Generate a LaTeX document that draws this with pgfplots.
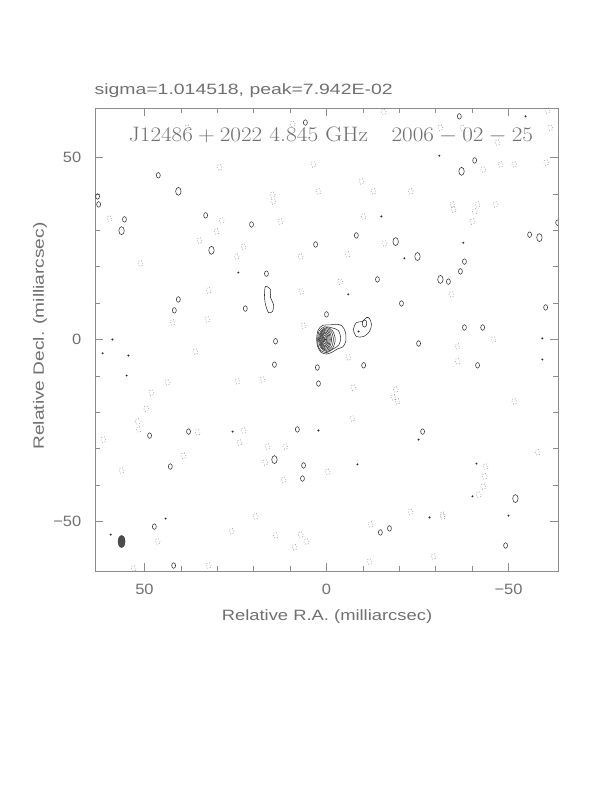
\documentclass[border=0pt]{standalone}
\usepackage{fontspec}
\setsansfont{Liberation Sans}
\usepackage{pgfplots}
\pgfplotsset{compat=1.18}
\definecolor{frame}{RGB}{140,140,140}
\definecolor{txt}{RGB}{112,112,112}
\definecolor{cont}{RGB}{45,45,45}
\definecolor{neg}{RGB}{95,95,95}
\begin{document}
\begin{tikzpicture}
\useasboundingbox (0bp,0bp) rectangle (612bp,792bp);
\begin{axis}[at={(95bp,221bp)}, anchor=south west, width=463bp, height=463bp, scale only axis,
  xmin=-63.6, xmax=63.6, ymin=-63.6, ymax=63.6, x dir=reverse,
  axis line style={frame, line width=0.6pt},
  every tick/.style={frame, line width=0.6pt},
  major tick length=8bp, minor tick length=5bp,
  tick align=inside, tick pos=both,
  xtick={-50,0,50}, ytick={-50,0,50}, minor tick num=4,
  xticklabels={−50,0,50}, yticklabels={−50,0,50},
  ticklabel style={font=\sffamily\fontsize{15}{15}\selectfont, text=txt, xscale=1.1},
  xticklabel style={yshift=-10bp},
  yticklabel style={xshift=-9bp},
  clip marker paths=true,
  contour/.style={cont, line width=0.55pt, smooth cycle, mark=none},
]
% central component contours
\addplot[contour] coordinates {(2.7,0) (2.3,2.6) (1.0,3.9) (-1.0,4.0) (-2.5,4.2) (-4.2,3.8) (-5.2,2.0) (-5.3,-0.5) (-4.5,-2.0) (-3.0,-2.6) (-1.5,-3.5) (0,-4.0) (1.5,-3.5) (2.4,-2.0)};
\addplot[contour] coordinates {(2.45,0) (2.0,2.4) (0.5,3.5) (-1.5,3.2) (-3.2,2.5) (-3.9,0.5) (-3.4,-1.5) (-1.8,-2.6) (0,-3.6) (1.6,-3.0) (2.25,-1.8)};
\addplot[contour] coordinates {(2.2,0) (1.526,2.333) (-0.1,3.3) (-1.726,2.333) (-2.4,0) (-1.726,-2.333) (-0.1,-3.3) (1.526,-2.333)};
\addplot[contour] coordinates {(1.95,0) (1.386,2.121) (0.025,3.0) (-1.336,2.121) (-1.9,0) (-1.336,-2.121) (0.025,-3.0) (1.386,-2.121)};
\addplot[contour] coordinates {(1.75,0) (1.289,1.909) (0.175,2.7) (-0.939,1.909) (-1.4,0) (-0.939,-1.909) (0.175,-2.7) (1.289,-1.909)};
\addplot[contour] coordinates {(1.55,0) (1.169,1.697) (0.25,2.4) (-0.669,1.697) (-1.05,0) (-0.669,-1.697) (0.25,-2.4) (1.169,-1.697)};
\addplot[contour] coordinates {(1.35,0) (1.042,1.449) (0.3,2.05) (-0.442,1.449) (-0.75,0) (-0.442,-1.449) (0.3,-2.05) (1.042,-1.449)};
\addplot[contour] coordinates {(1.15,0) (0.916,1.202) (0.35,1.7) (-0.216,1.202) (-0.45,0) (-0.216,-1.202) (0.35,-1.7) (0.916,-1.202)};
\addplot[contour] coordinates {(0.9,0) (0.739,0.919) (0.35,1.3) (-0.039,0.919) (-0.2,0) (-0.039,-0.919) (0.35,-1.3) (0.739,-0.919)};
\addplot[contour] coordinates {(0.6,0) (0.512,0.566) (0.3,0.8) (0.088,0.566) (0,0) (0.088,-0.566) (0.3,-0.8) (0.512,-0.566)};
% secondary component
\addplot[contour] coordinates {(-7.42,2.75) (-8.24,4.67) (-9.89,4.95) (-11.0,6.04) (-11.81,5.77) (-12.36,4.12) (-11.81,2.2) (-10.16,0.82) (-8.24,0.82)};
\addplot[contour] coordinates {(-9.84,4.4) (-10.0,5.1) (-10.44,5.4) (-10.9,5.1) (-11.04,4.4) (-10.9,3.7) (-10.44,3.4) (-10.0,3.7)};
% elongated noise contour
\addplot[contour] coordinates {(16.76,14.56) (15.38,13.74) (15.38,11.54) (14.56,9.62) (14.84,7.69) (15.93,7.42) (16.76,9.62) (17.03,12.09)};
% beam
\addplot[draw=cont, fill=cont!85, line width=0.4pt, smooth cycle, mark=none] coordinates {(57.26,-55.5) (56.98,-54.33) (56.3,-53.85) (55.62,-54.33) (55.34,-55.5) (55.62,-56.67) (56.3,-57.15) (56.98,-56.67)};
% small positive contours
\addplot[only marks, mark=o, mark size=2.8pt, mark options={cont, line width=0.55pt, xscale=0.7}] coordinates {
(62.6,37.1) (55.5,33.0) (33.2,34.1) (20.6,31.6) (3.0,26.1) (16.5,18.1) (40.7,11.0) (41.8,8.0) (22.3,8.5) (14.0,-0.5) (0,6.9)
(-8.2,28.6) (-37.9,21.4) (-36.8,18.7) (-33.5,15.9) (-14.0,16.5) (-20.6,9.9) (-55.8,28.8) (-60.2,8.8) (-37.9,3.3) (-42.9,3.3) (-25.3,-1.1)
(14.3,-6.9) (2.5,-7.7) (2.2,-12.1) (48.6,-26.4) (37.9,-25.3) (8.0,-24.7) (6.3,-34.6) (6.6,-38.2) (42.9,-34.9)
(-10.2,-7.1) (-41.5,-7.1) (-26.4,-25.3) (47.3,-51.4) (42.0,-62.1) (-14.8,-53.0) (-17.3,-51.9) (-49.2,-56.6) (63.7,-49.5)
(5.8,59.6) (-36.5,61.3) (-40.7,49.2) (46.2,45.1) (62.9,39.3) (-63.5,32.1)};
% larger positive contours
\addplot[only marks, mark=o, mark size=4pt, mark options={cont, line width=0.55pt, xscale=0.68}] coordinates {
(56.3,29.9) (31.6,24.5) (-19.0,26.9) (-25.0,22.8) (-31.3,16.5) (-58.5,28.0) (14.3,-33.0) (-51.9,-43.7) (-37.1,46.2) (40.7,40.7)};
% tiny positive contours
\addplot[only marks, mark=*, mark size=0.8pt, mark options={cont, line width=0.3pt}] coordinates {
(24.2,18.4) (58.8,0) (-21.4,22.3) (-15.1,33.8) (-37.6,26.6) (-6.0,12.4) (-59.3,0.3) (54.4,-4.4) (25.8,-25.3) (2.2,-25.0)
(61.5,-3.8) (54.9,-9.9) (-59.3,-5.5) (-25.3,-27.5) (-8.5,-34.3) (-41.2,-34.1) (-40.1,-43.1) (-50.0,-48.4) (-28.3,-48.9)
(59.3,-53.6) (44.2,-49.2) (-54.7,61.3) (-31.0,50.5) (-8.8,2.2) (0.3,0)};
% negative contours (dotted)
\addplot[only marks, mark=o, mark size=3pt, mark options={neg, line width=0.6pt, dash pattern=on 0.6pt off 2.2pt, xscale=0.8}] coordinates {
(51.1,20.9) (28.8,32.7) (30.2,29.7) (34.9,27.2) (22.8,25.5) (24.7,22.8) (7.1,22.8) (6.9,13.2) (32.4,13.5) (42.3,4.7) (32.7,5.5)
(6.3,3.8) (14.6,37.9) (59.6,33.2) (12.6,32.4)
(-34.9,35.7) (-40.7,35.2) (-40.1,32.4) (-10.2,33.8) (-5.8,23.4) (-3.8,15.9) (-34.3,12.4) (-45.9,0) (-36.0,-1.9) (-46.4,37.1) (-15.9,26.4)
(43.7,-11.8) (48.1,-14.6) (49.5,-19.0) (51.9,-22.5) (51.6,-24.7) (61.3,-27.5) (39.3,-31.9) (56.3,-36.0) (24.5,-11.5) (17.6,-11.0)
(23.9,-28.3) (16.2,-29.4) (16.8,-33.8) (11.8,-38.5) (11.3,-29.4) (35.4,-25.5) (22.8,-25.0) (-0.3,-36.3) (36.0,-3.3)
(-6.0,-4.9) (-36.0,-6.0) (-7.4,-13.2) (-19.0,-13.7) (-18.4,-15.9) (-19.5,-17.0) (-7.1,-21.7) (-43.7,-34.9) (-43.4,-37.6)
(-43.1,-40.4) (-41.8,-42.6) (-58.0,-31.0) (-51.6,-17.0) (-31.9,-48.1)
(46.4,-55.5) (26.1,-52.7) (19.5,-48.6) (14.0,-53.8) (7.1,-53.6) (5.5,-55.5) (8.8,-57.1) (32.4,-62.1) (-12.1,-50.8) (-11.8,-61.0)
(-31.9,-48.6) (-29.4,-59.6) (53.0,-62.9) (-23.1,-47.3)
(38.2,58.2) (9.3,59.3) (-15.7,62.6) (-31.3,58.2) (-37.4,58.2) (-60.7,62.9) (-61.5,58.2) (-47.0,54.1)
(3.6,48.1) (-9.6,43.4) (-12.9,40.7) (-23.1,40.7) (-34.6,37.1) (-41.5,37.1) (-60.4,48.6) (-43.1,46.7) (-47.8,48.1) (-51.6,48.1)
(14.8,39.8) (2.2,40.7) (29.4,47.3)};
\end{axis}
\node[anchor=base west, font=\sffamily\fontsize{15}{15}\selectfont, text=txt, xscale=1.3] at (90bp,697bp) {sigma=1.014518, peak=7.942E-02};
\node[font=\rmfamily\fontsize{21}{21}\selectfont, text=txt, xscale=1.12] at (331bp,657bp) {J\(12486+2022\) 4.845 GHz\quad \(2006-02-25\)};
\node[font=\sffamily\fontsize{15}{15}\selectfont, text=txt, xscale=1.23] at (327bp,175bp) {Relative R.A. (milliarcsec)};
\node[font=\sffamily\fontsize{15}{15}\selectfont, text=txt, rotate=90, xscale=1.28] at (40bp,456bp) {Relative Decl. (milliarcsec)};
\end{tikzpicture}
\end{document}
